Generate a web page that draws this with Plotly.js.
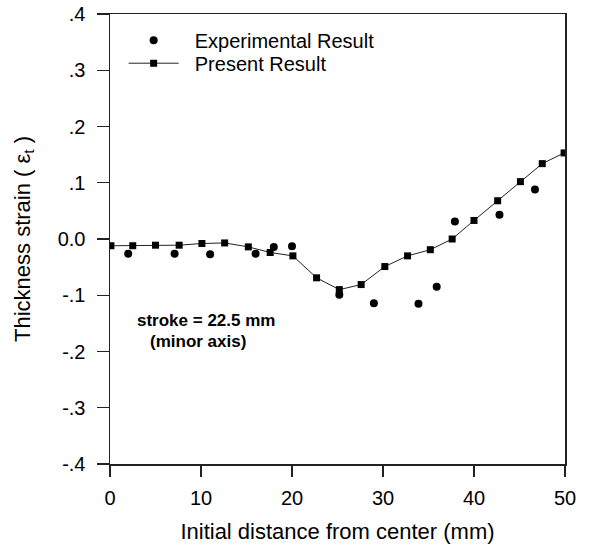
<!DOCTYPE html>
<html>
<head>
<meta charset="utf-8">
<script src="https://cdn.plot.ly/plotly-3.0.1.min.js"></script>
<style>html,body{margin:0;padding:0;background:#fff;}#chart{width:590px;height:557px;}</style>
</head>
<body>
<div id="chart"></div>
<script>
// Present (simulation) result
const presentX = [0.1, 2.5, 5.0, 7.6, 10.1, 12.6, 15.2, 17.6, 20.1, 22.7, 25.2, 27.6, 30.2, 32.7, 35.2, 37.6, 40.0, 42.6, 45.1, 47.5, 49.9];
const presentY = [-0.012, -0.012, -0.011, -0.011, -0.008, -0.007, -0.014, -0.024, -0.030, -0.069, -0.090, -0.081, -0.049, -0.030, -0.019, 0.000, 0.033, 0.068, 0.102, 0.134, 0.153];
// Experimental result
const expX = [2.0, 7.1, 11.0, 16.0, 18.0, 20.0, 25.2, 29.0, 33.9, 35.9, 37.9, 42.8, 46.7];
const expY = [-0.026, -0.026, -0.027, -0.026, -0.014, -0.013, -0.099, -0.114, -0.115, -0.085, 0.031, 0.043, 0.088];
// Axis ticks
const xTicks = [0, 10, 20, 30, 40, 50];
const yTickVals = [0.4, 0.3, 0.2, 0.1, 0.0, -0.1, -0.2, -0.3, -0.4];
const yTickText = ['.4', '.3', '.2', '.1', '0.0', '-.1', '-.2', '-.3', '-.4'];

const FONT = 'Arial, "Liberation Sans", Helvetica, sans-serif';
const NB = '\u00A0\u00A0';

const traces = [
  {
    x: expX, y: expY, type: 'scatter', mode: 'markers', name: NB + 'Experimental Result',
    legend: 'legend',
    marker: {symbol: 'circle', size: 8, color: '#000'}
  },
  {
    x: presentX, y: presentY, type: 'scatter', mode: 'lines+markers', name: NB + 'Present Result',
    legend: 'legend2',
    line: {color: '#222', width: 1},
    marker: {symbol: 'square', size: 7, color: '#000'}
  }
];

const legendBase = {
  xanchor: 'left', yanchor: 'top',
  bgcolor: 'rgba(0,0,0,0)', borderwidth: 0,
  itemwidth: 50,
  font: {family: FONT, size: 20, color: '#000'},
  tracegroupgap: 0
};

const layout = {
  width: 590, height: 557,
  margin: {l: 110, r: 25, t: 14, b: 93},
  paper_bgcolor: '#fff', plot_bgcolor: '#fff',
  font: {family: FONT, color: '#000'},
  showlegend: true,
  legend: Object.assign({}, legendBase, {x: 0.03, y: 0.985}),
  legend2: Object.assign({}, legendBase, {x: 0.03, y: 0.934}),
  xaxis: {
    range: [0, 50], tickvals: xTicks, ticktext: xTicks.map(String),
    showgrid: false, zeroline: false, showline: true, mirror: true,
    linecolor: '#222', linewidth: 1.5,
    ticks: 'outside', ticklen: 11, tickwidth: 1.2, tickcolor: '#222',
    ticklabelstandoff: 4,
    tickfont: {family: FONT, size: 20, color: '#000'},
    title: {text: 'Initial distance from center (mm)', font: {family: FONT, size: 22, color: '#000'}, standoff: 16}
  },
  yaxis: {
    range: [-0.4, 0.4], tickvals: yTickVals, ticktext: yTickText,
    showgrid: false, zeroline: false, showline: true, mirror: true,
    linecolor: '#222', linewidth: 1.5,
    ticks: 'outside', ticklen: 12, tickwidth: 1.2, tickcolor: '#222',
    ticklabelstandoff: 7,
    tickfont: {family: FONT, size: 20, color: '#000'},
    title: {text: 'Thickness strain ( ε<sub>t</sub> )', font: {family: FONT, size: 22, color: '#000'}, standoff: 21}
  },
  annotations: [
    {
      xref: 'x', yref: 'y', x: 10.55, y: -0.1447, showarrow: false,
      text: '<b>stroke = 22.5 mm</b>', font: {family: FONT, size: 17, color: '#000'}
    },
    {
      xref: 'x', yref: 'y', x: 9.67, y: -0.183, showarrow: false,
      text: '<b>(minor axis)</b>', font: {family: FONT, size: 17, color: '#000'}
    }
  ]
};

Plotly.newPlot('chart', traces, layout, {displayModeBar: false, staticPlot: true});
</script>
</body>
</html>
